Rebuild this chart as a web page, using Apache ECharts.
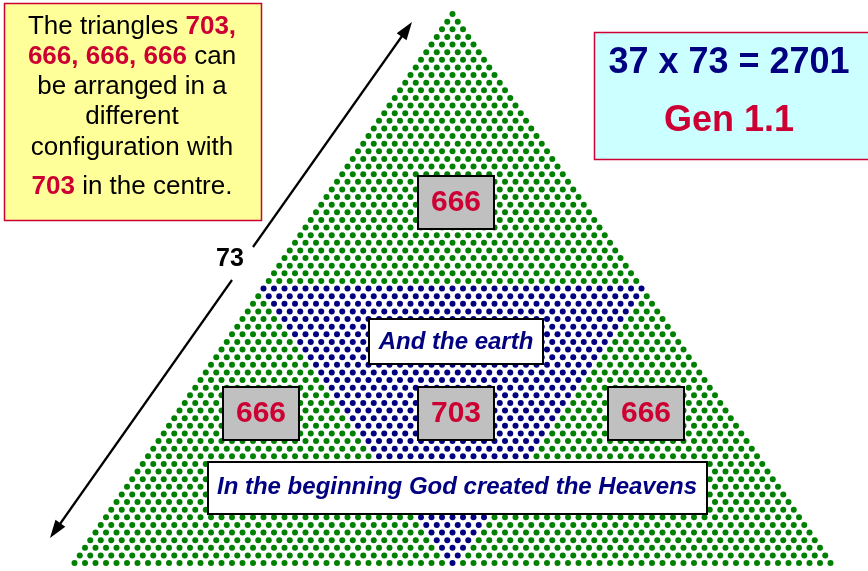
<!DOCTYPE html>
<html>
<head>
<meta charset="utf-8">
<script src="https://cdn.jsdelivr.net/npm/echarts@6/dist/echarts.min.js"></script>
<style>
html,body{margin:0;padding:0;background:#fff;}
#chart{width:868px;height:571px;}
</style>
</head>
<body>
<div id="chart"></div>
<script>
// ---- data ----
const totalRows = 73;          // rows of the big triangle (T73 = 2701)
const innerRows = 37;          // rows of the central inverted triangle (T37 = 703)
const boxLabels = ['666', '666', '703', '666'];
const sideLabel = '73';
const equation = '37 x 73 = 2701';
const reference = 'Gen 1.1';
const phraseTop = 'And the earth';
const phraseBottom = 'In the beginning God created the Heavens';

const GREEN = '#008000', NAVY = '#000080', RED = '#CC0033';
const FONT = '"Liberation Sans", Arial, Helvetica, sans-serif';

// build dot lists (row r has r dots)
const greenDots = [], blueDots = [];
const firstInner = totalRows - innerRows + 1; // 37
for (let r = 1; r <= totalRows; r++) {
  for (let j = 0; j < r; j++) {
    const x = j - (r - 1) / 2;
    let blue = false;
    if (r >= firstInner) {
      const k = r - firstInner;
      blue = j >= k && j < r - k;
    }
    (blue ? blueDots : greenDots).push([x, r]);
  }
}

const chart = echarts.init(document.getElementById('chart'), null, {renderer: 'canvas'});

function box(x, y, w, h, fill, stroke, lw) {
  return {type: 'rect', z: 100, shape: {x, y, width: w, height: h},
    style: {fill, stroke, lineWidth: lw}};
}
function txt(x, y, text, font, fill) {
  return {type: 'text', z: 101, x, y,
    style: {text, font, fill, textAlign: 'center', textVerticalAlign: 'middle', align: 'center', verticalAlign: 'middle'}};
}
function rtxt(x, y, text, size) {
  return {type: 'text', z: 101, x, y,
    style: {text, textAlign: 'center', textVerticalAlign: 'middle', align: 'center', verticalAlign: 'middle',
      rich: {
        k: {fill: '#000', fontSize: size, fontFamily: FONT},
        r: {fill: RED, fontSize: size, fontFamily: FONT, fontWeight: 'bold'}
      }}};
}
function arrowHead(tip, from, len, half) {
  const dx = tip[0] - from[0], dy = tip[1] - from[1];
  const d = Math.hypot(dx, dy), ux = dx / d, uy = dy / d;
  const bx = tip[0] - ux * len, by = tip[1] - uy * len;
  return {type: 'polygon', z: 100, shape: {points: [tip, [bx - uy * half, by + ux * half], [bx + uy * half, by - ux * half]]},
    style: {fill: '#000'}};
}

const topTip = [412, 22], botTip = [50, 538];
const gapTop = [253, 247], gapBot = [232, 280];

const boxFont = 'bold 30px ' + FONT;
const phraseFont = 'italic bold 24px ' + FONT;

const graphics = [
  // arrow
  {type: 'line', z: 100, shape: {x1: gapTop[0], y1: gapTop[1], x2: topTip[0] - 5, y2: topTip[1] + 7}, style: {stroke: '#000', lineWidth: 2.2}},
  {type: 'line', z: 100, shape: {x1: gapBot[0], y1: gapBot[1], x2: botTip[0] + 5, y2: botTip[1] - 7}, style: {stroke: '#000', lineWidth: 2.2}},
  arrowHead(topTip, gapTop, 18, 6),
  arrowHead(botTip, gapBot, 18, 6),
  txt(230, 259, sideLabel, 'bold 25px ' + FONT, '#000'),
  // yellow note
  box(4.5, 3.5, 257, 217, '#FFFF99', RED, 1.5),
  rtxt(132, 27, '{k|The triangles }{r|703,}', 26),
  rtxt(132, 57, '{r|666, 666, 666}{k| can}', 26),
  rtxt(132, 87, '{k|be arranged in a}', 26),
  rtxt(132, 117, '{k|different}', 26),
  rtxt(132, 148, '{k|configuration with}', 26),
  rtxt(132, 187, '{r|703}{k| in the centre.}', 26),
  // cyan note
  box(594.5, 32.5, 300, 127, '#CCFFFF', RED, 1.5),
  txt(729, 63, equation, 'bold 36px ' + FONT, NAVY),
  txt(729, 121, reference, 'bold 36px ' + FONT, RED),
  // number boxes
  box(418, 176, 76, 53, '#C0C0C0', '#000', 2),
  txt(456, 203, boxLabels[0], boxFont, RED),
  box(223, 387, 76, 53, '#C0C0C0', '#000', 2),
  txt(261, 414, boxLabels[1], boxFont, RED),
  box(418, 387, 76, 53, '#C0C0C0', '#000', 2),
  txt(456, 414, boxLabels[2], boxFont, RED),
  box(608, 387, 76, 53, '#C0C0C0', '#000', 2),
  txt(646, 414, boxLabels[3], boxFont, RED),
  // phrases
  box(369, 319, 174, 45, '#FFFFFF', '#000', 2),
  txt(456, 342, phraseTop, phraseFont, NAVY),
  box(208, 462, 499, 52, '#FFFFFF', '#000', 2),
  txt(457, 487, phraseBottom, phraseFont, NAVY)
];

chart.setOption({
  animation: false,
  backgroundColor: '#fff',
  grid: {left: 74.5, top: 14, width: 756, height: 549},
  xAxis: {type: 'value', min: -36, max: 36, show: false},
  yAxis: {type: 'value', min: 1, max: 73, inverse: true, show: false},
  series: [
    {type: 'scatter', data: greenDots, symbol: 'circle', symbolSize: 6, itemStyle: {color: GREEN, opacity: 1}, silent: true},
    {type: 'scatter', data: blueDots, symbol: 'circle', symbolSize: 6, itemStyle: {color: NAVY, opacity: 1}, silent: true}
  ],
  graphic: graphics
});
</script>
</body>
</html>
